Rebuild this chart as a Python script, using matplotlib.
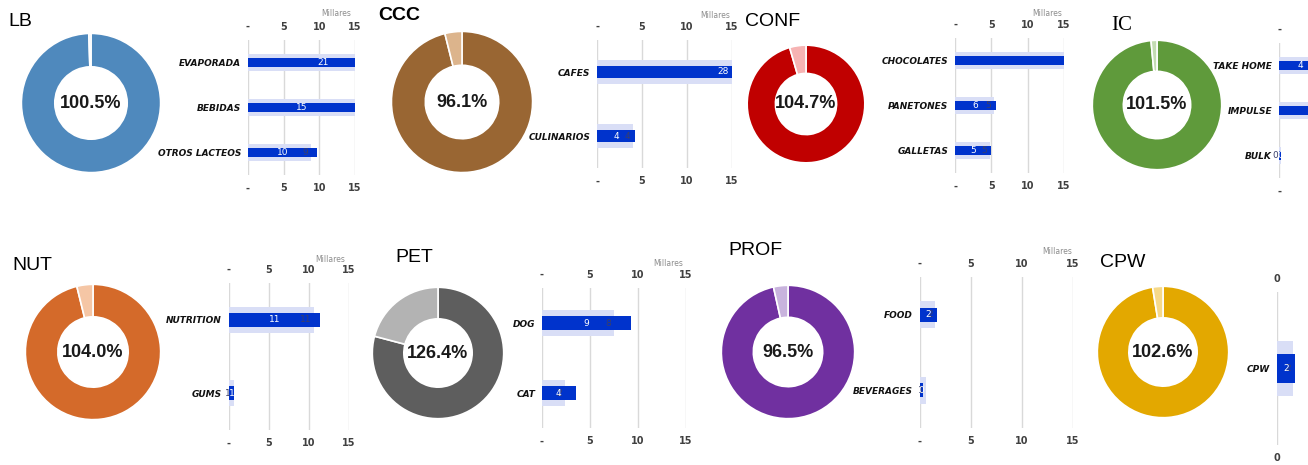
import matplotlib.pyplot as plt

W, H = 1308, 465

# cumplimiento por categoria (%)
groups = ["LB", "CCC", "CONF", "IC", "NUT", "PET", "PROF", "CPW"]
pct = [100.5, 96.1, 104.7, 101.5, 104.0, 126.4, 96.5, 102.6]

main_colors = ["#4f89bd", "#996633", "#c00000", "#5f9a3b", "#d46a2a", "#5e5e5e", "#7030a0", "#e3a800"]
rest_colors = ["#e4ecf5", "#dcb48c", "#f6b3b3", "#c3dcb2", "#f5c6a5", "#b3b3b3", "#c8b3dd", "#f6d98a"]

# ventas por subcategoria (millares): real vs anterior
lb_cats = ["EVAPORADA", "BEBIDAS", "OTROS LACTEOS"]
lb_real = [21, 15, 9.7]
lb_prev = [20, 17, 8.8]

ccc_cats = ["CAFES", "CULINARIOS"]
ccc_real = [28, 4.2]
ccc_prev = [27, 4.0]

conf_cats = ["CHOCOLATES", "PANETONES", "GALLETAS"]
conf_real = [32, 5.6, 5.0]
conf_prev = [30, 5.3, 4.8]

ic_cats = ["TAKE HOME", "IMPULSE", "BULK"]
ic_real = [4.0, 9.0, 0.2]
ic_prev = [4.4, 8.0, 0.2]

nut_cats = ["NUTRITION", "GUMS"]
nut_real = [11.4, 0.6]
nut_prev = [10.6, 0.6]

pet_cats = ["DOG", "CAT"]
pet_real = [9.3, 3.5]
pet_prev = [7.5, 2.4]

prof_cats = ["FOOD", "BEVERAGES"]
prof_real = [1.7, 0.3]
prof_prev = [1.5, 0.6]

cpw_cats = ["CPW"]
cpw_real = [2.0]
cpw_prev = [1.8]

fig = plt.figure(figsize=(W / 100, H / 100), dpi=100)


def box(x0, y0, w, h):
    # pixel box (top-left origin) -> figure fraction
    return [x0 / W, 1 - (y0 + h) / H, w / W, h / H]


def donut(cx, cy, r, i, title, tx, ty, tfont):
    ax = fig.add_axes(box(cx - r, cy - r, 2 * r, 2 * r))
    p = pct[i]
    vals = [100, p - 100] if p >= 100 else [p, 100 - p]
    ax.pie(vals, colors=[main_colors[i], rest_colors[i]], startangle=90,
           counterclock=False, radius=1,
           wedgeprops=dict(width=0.48, edgecolor="white", linewidth=1.2))
    ax.set_xlim(-1.02, 1.02)
    ax.set_ylim(-1.02, 1.02)
    ax.text(0, 0, f"{p:.1f}%", ha="center", va="center", fontsize=13,
            fontweight="bold", family="Liberation Sans", color="#1a1a1a")
    fig.text(tx / W, 1 - ty / H, title, ha="left", va="center", **tfont)


def bars(cats, real, prev, x0, x1, top, bot, xmax=15, ticks=(0, 5, 10, 15),
         labels=("-", "5", "10", "15"), millares=None):
    ax = fig.add_axes(box(x0, top, x1 - x0, bot - top))
    n = len(cats)
    y = list(range(n))
    ax.barh(y, prev, height=0.36, color="#d9def6", zorder=2)
    ax.barh(y, real, height=0.19, color="#0033cc", zorder=3)
    ax.set_xlim(0, xmax)
    ax.set_ylim(n - 0.5, -0.5)
    # the part of the axis that lands inside the figure
    vis = min(xmax, (W - x0) / (x1 - x0) * xmax - 0.4)
    for yi, v, pv in zip(y, real, prev):
        if v / 2 < vis:
            ax.text(v / 2, yi, f"{round(v):.0f}", ha="center", va="center",
                    color="white", fontsize=6.5, zorder=5)
        if pv < vis:
            ax.annotate(f"{round(pv):.0f}", (pv, yi), xytext=(-2, 0),
                        textcoords="offset points", ha="right", va="center",
                        color="#3a3f6b", fontsize=6.5, zorder=4,
                        annotation_clip=False)
    shown = [(t, l) for t, l in zip(ticks, labels) if t <= vis + 0.4]
    ax.set_xticks([t for t, _ in shown])
    ax.set_xticklabels([l for _, l in shown])
    ax.tick_params(axis="x", top=True, labeltop=True, bottom=True,
                   labelbottom=True, length=0, pad=6, labelsize=7,
                   labelcolor="#404040")
    for t in ax.xaxis.get_major_ticks():
        t.label1.set_fontweight("bold")
        t.label2.set_fontweight("bold")
    for g in ticks:
        ax.axvline(g, color="#d9d9d9", linewidth=1, zorder=1)
    ax.set_yticks(y)
    ax.set_yticklabels(cats, fontstyle="italic", fontweight="bold",
                       fontsize=6.5, color="#111111")
    ax.tick_params(axis="y", length=0, pad=5)
    for s in ax.spines.values():
        s.set_visible(False)
    if millares:
        fig.text(millares[0] / W, 1 - millares[1] / H, "Millares",
                 ha="center", va="center", fontsize=5.5, color="#8c8c8c")
    return ax


sans = dict(fontsize=14, family="Liberation Sans", color="black")
sans_bold = dict(fontsize=14, family="Liberation Sans", fontweight="bold", color="black")
serif = dict(fontsize=15, family="Liberation Serif", color="black")

# fila superior
donut(91, 103, 71, 0, "LB", 8, 22, sans)
bars(lb_cats, lb_real, lb_prev, 248, 355, 40, 175, millares=(336, 13))

donut(462, 102, 72, 1, "CCC", 378, 16, sans_bold)
bars(ccc_cats, ccc_real, ccc_prev, 597, 732, 40, 168, millares=(715, 15))

donut(806, 104, 60, 2, "CONF", 745, 21, sans)
bars(conf_cats, conf_real, conf_prev, 955, 1064, 38, 173, millares=(1047, 13))

donut(1157, 105, 66, 3, "IC", 1111, 25, serif)
bars(ic_cats, ic_real, ic_prev, 1279, 1436, 43, 178)

# fila inferior
donut(93, 352, 69, 4, "NUT", 12, 266, sans)
bars(nut_cats, nut_real, nut_prev, 229, 349, 283, 430, millares=(330, 259))

donut(438, 353, 67, 5, "PET", 395, 258, sans)
bars(pet_cats, pet_real, pet_prev, 542, 686, 288, 428, millares=(668, 264))

donut(788, 352, 68, 6, "PROF", 728, 250, sans)
bars(prof_cats, prof_real, prof_prev, 920, 1073, 277, 428, millares=(1057, 251))

donut(1163, 352, 67, 7, "CPW", 1100, 262, sans)
bars(cpw_cats, cpw_real, cpw_prev, 1277, 1308, 292, 445, xmax=3.4,
     ticks=(0,), labels=("0",))

fig.savefig("out.png", dpi=100)
